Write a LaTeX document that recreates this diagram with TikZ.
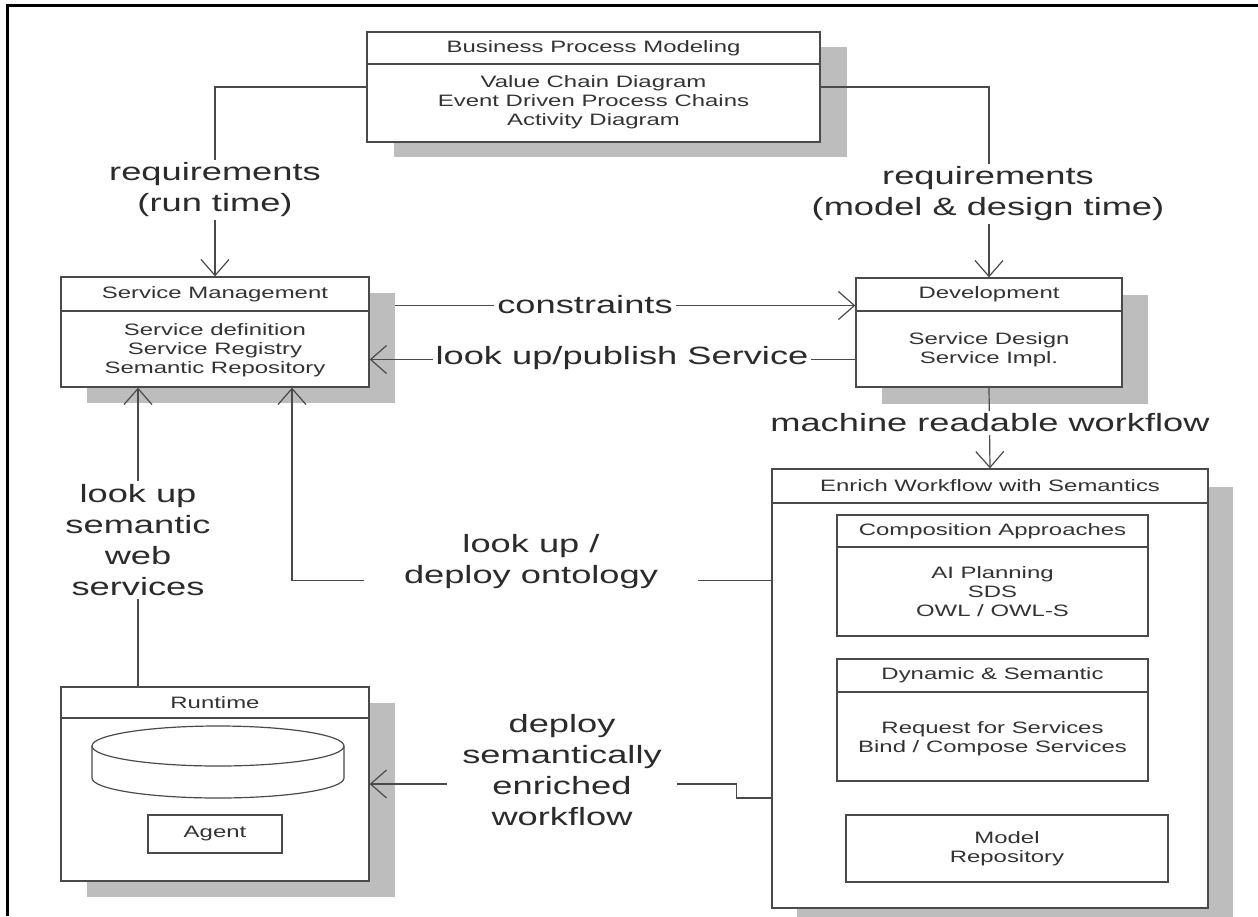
\documentclass[tikz,border=0pt]{standalone}
\usepackage{fontspec}
\setmainfont{Liberation Sans}[FakeStretch=1.45]
\usetikzlibrary{arrows.meta,backgrounds,calc}
\definecolor{lc}{HTML}{4A4A4A}
\definecolor{shd}{HTML}{BDBDBD}
\definecolor{tc}{HTML}{333333}
\definecolor{lt}{HTML}{2B2B2B}
\tikzset{
 bx/.style={draw=lc,line width=1.3pt,fill=white,inner sep=0pt,rectangle},
 hd/.style={bx,anchor=north,font=\fontsize{16.5}{19}\selectfont,text=tc},
 bd/.style={align=center,font=\fontsize{16.5}{19}\selectfont,text=tc,inner sep=0pt},
 sh/.style={fill=shd,draw=none,inner sep=0pt,rectangle},
 lb/.style={align=center,font=\fontsize{25}{31}\selectfont,text=lt,fill=white,inner sep=3pt},
 ar/.style={draw=lc,line width=1.2pt,-{Straight Barb[length=16pt,width=28pt,line width=1.2pt]}},
 ln/.style={draw=lc,line width=1.2pt},
}
\begin{document}
\begin{tikzpicture}[x=1pt,y=-1pt]
\useasboundingbox (0,0) rectangle (1258,916);
\begin{scope}[on background layer]
 \fill[white] (0,0) rectangle (1258,916);
 \node[sh,minimum width=453pt,minimum height=110pt] (bpmsh) at (620.5,102) {};
 \node[sh,minimum width=308pt,minimum height=110pt] (smsh) at (241,348) {};
 \node[sh,minimum width=266pt,minimum height=109pt] (devsh) at (1015,349.5) {};
 \node[sh,minimum width=436pt,minimum height=439pt] (enrsh) at (1015,706.5) {};
 \node[sh,minimum width=311pt,minimum height=121pt] (compsh) at (1018.5,592.5) {};
 \node[sh,minimum width=311pt,minimum height=122pt] (dynsh) at (1018.5,736) {};
 \node[sh,minimum width=308pt,minimum height=194pt] (rtsh) at (241,800) {};
\end{scope}

% frame
\draw[black,line width=3pt] (7,916) -- (7,5) -- (1258,5);

% Business Process Modeling
\node[bx,minimum width=453pt,minimum height=110pt] (bpm) at (593.5,87) {};
\node[hd,minimum width=453pt,minimum height=32pt] (bpmh) at (bpm.north) {Business Process Modeling};
\node[bd] (bpmb) at (593.5,102) {Value Chain Diagram\\Event Driven Process Chains\\Activity Diagram};

% Service Management
\node[bx,minimum width=308pt,minimum height=110pt] (sm) at (215,332) {};
\node[hd,minimum width=308pt,minimum height=34pt] (smh) at (sm.north) {Service Management};
\node[bd] (smb) at (215,350) {Service definition\\Service Registry\\Semantic Repository};

% Development
\node[bx,minimum width=266pt,minimum height=109pt] (dev) at (989,332.5) {};
\node[hd,minimum width=266pt,minimum height=33pt] (devh) at (dev.north) {Development};
\node[bd] (devb) at (989,350) {Service Design\\Service Impl.};

% Enrich Workflow with Semantics
\node[bx,minimum width=436pt,minimum height=439pt] (enr) at (990,688.5) {};
\node[hd,minimum width=436pt,minimum height=34pt] (enrh) at (enr.north) {Enrich Workflow with Semantics};

\node[bx,minimum width=311pt,minimum height=121pt] (comp) at (992.5,575.5) {};
\node[hd,minimum width=311pt,minimum height=32pt] (comph) at (comp.north) {Composition Approaches};
\node[bd] (compb) at (992.5,592) {AI Planning\\SDS\\OWL / OWL-S};

\node[bx,minimum width=311pt,minimum height=122pt] (dyn) at (992.5,720) {};
\node[hd,minimum width=311pt,minimum height=33pt] (dynh) at (dyn.north) {Dynamic \& Semantic};
\node[bd] (dynb) at (992.5,739) {Request for Services\\Bind / Compose Services};

\node[bx,minimum width=322pt,minimum height=67pt,align=center,font=\fontsize{16.5}{19}\selectfont,text=tc] (mr) at (1007,848.5) {Model\\Repository};

% Runtime
\node[bx,minimum width=308pt,minimum height=194pt] (rt) at (215,784) {};
\node[hd,minimum width=308pt,minimum height=31pt] (rth) at (rt.north) {Runtime};
\draw[lc,line width=1.2pt] (218,746) ellipse [x radius=126, y radius=20];
\draw[lc,line width=1.2pt] (92,746) -- (92,778) arc[start angle=180,end angle=0,x radius=126,y radius=20] -- (344,746);
\node[bx,minimum width=134pt,minimum height=38pt,font=\fontsize{16.5}{19}\selectfont,text=tc] (ag) at (215,834) {Agent};

% helper coordinates
\path (dev.west) ++(0,-27) coordinate (cin);
\path (dev.west) ++(0,27) coordinate (pout);
\path (rt.north) ++(-77,0) coordinate (rta);
\path (sm.south) ++(77,0) coordinate (smb2);
\path (enr.west) ++(0,-108) coordinate (eo);
\path (enr.west) ++(0,109.5) coordinate (ed);

% connectors
\draw[ar] (bpm.west) -| (sm.north);
\draw[ar] (bpm.east) -| (dev.north);
\draw[ar] (smsh.east |- cin) -- (cin);
\draw[ar] (pout) -- (sm.east |- pout);
\draw[ar] (dev.south) -- (enr.north);
\draw[ar] (rta) -- (sm.south -| rta);
\draw[ar] (eo) -| (smb2);
\draw[ar] (ed) -- ++(-35,0) |- (rt.east);

% labels
\node[lb] (l1) at (215,190) {requirements\\(run time)};
\node[lb] (l2) at (988,194) {requirements\\(model \& design time)};
\node[lb] (l3) at (585,305) {constraints};
\node[lb] (l4) at (622,358) {look up/publish Service};
\node[lb] (l5) at (990,423) {machine readable workflow};
\node[lb] (l6) at (138,540) {look up\\semantic\\web\\services};
\node[lb,inner xsep=40pt] (l7) at (531,562) {look up /\\deploy ontology};
\node[lb,inner xsep=15pt] (l8) at (562,770) {deploy\\semantically\\enriched\\workflow};
\end{tikzpicture}
\end{document}
